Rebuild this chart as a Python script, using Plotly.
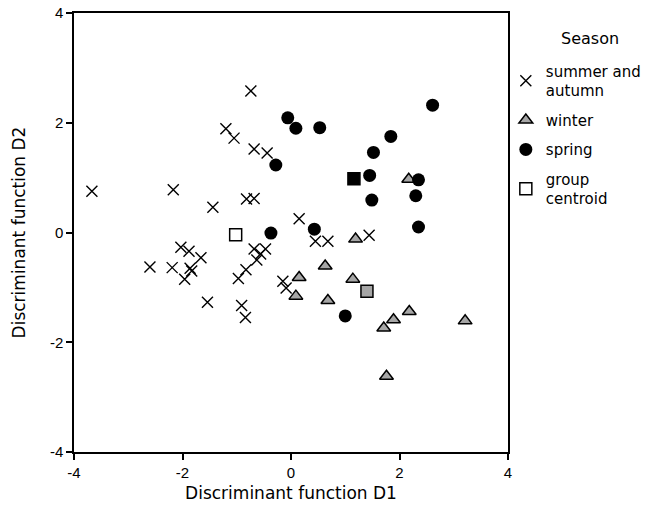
import plotly.graph_objects as go

# Summer and autumn
summer_x = [-0.74, -1.20, -1.05, -0.68, -0.44, -3.67, -2.17, -1.44, -0.82, -0.68, 0.15,
            -2.03, -1.88, -1.66, -2.60, -2.19, -1.86, -1.83, -1.96, -0.68, -0.47, -0.56,
            -0.63, -0.83, -0.97, -1.54, -0.91, -0.84, -0.15, -0.09, 0.45, 0.68, 1.44]
summer_y = [2.58, 1.89, 1.72, 1.52, 1.45, 0.75, 0.78, 0.46, 0.61, 0.62, 0.25,
            -0.27, -0.34, -0.46, -0.63, -0.64, -0.65, -0.70, -0.85, -0.30, -0.30, -0.39,
            -0.50, -0.68, -0.84, -1.27, -1.33, -1.55, -0.89, -1.01, -0.16, -0.16, -0.05]

# Winter
winter_x = [2.17, 1.19, 0.63, 0.15, 1.14, 0.09, 0.68, 2.18, 1.89, 1.71, 3.21, 1.76]
winter_y = [0.97, -0.12, -0.61, -0.82, -0.85, -1.16, -1.24, -1.44, -1.59, -1.74, -1.61, -2.62]

# Spring
spring_x = [-0.06, 0.09, 0.53, 2.61, 1.84, 1.52, -0.28, 1.45, 2.35, 2.30, 1.49, 2.35, -0.37, 0.43, 1.00]
spring_y = [2.09, 1.90, 1.91, 2.32, 1.75, 1.46, 1.23, 1.04, 0.96, 0.67, 0.59, 0.10, -0.01, 0.06, -1.52]

# Group centroids: summer/autumn, winter, spring
centroid_x = [-1.02, 1.40, 1.16]
centroid_y = [-0.04, -1.07, 0.98]
centroid_fill = ["white", "#a6a6a6", "black"]

tick_vals = [-4, -2, 0, 2, 4]
tick_text = ["-4", "-2", "0", "2", "4"]

legend_title = "Season"

GRAY = "#a6a6a6"
TXT_FONT = "DejaVu Sans, sans-serif"

fig = go.Figure()
fig.add_trace(go.Scatter(
    x=summer_x, y=summer_y, mode="markers", name="summer and<br>autumn", legendgroup="a",
    marker=dict(symbol="x-thin", size=11, line=dict(color="black", width=1.4), color="black"),
))
fig.add_trace(go.Scatter(
    x=winter_x, y=winter_y, mode="markers", name="winter", legendgroup="b",
    marker=dict(symbol="triangle-up", size=12, color=GRAY, line=dict(color="black", width=1.5)),
))
fig.add_trace(go.Scatter(
    x=spring_x, y=spring_y, mode="markers", name="spring", legendgroup="c",
    marker=dict(symbol="circle", size=13, color="black", line=dict(width=0)),
))
fig.add_trace(go.Scatter(
    x=centroid_x, y=centroid_y, mode="markers", name="group<br>centroid", legendgroup="d",
    marker=dict(symbol="square", size=12, color=centroid_fill, line=dict(color="black", width=1.5)),
))

axis_common = dict(
    range=[-4, 4], tickvals=tick_vals, ticktext=tick_text, ticks="outside", ticklen=6, tickwidth=1.5,
    tickcolor="black", showline=True, linecolor="black", linewidth=1.5, mirror=True,
    showgrid=False, zeroline=False, automargin=False,
    tickfont=dict(family="Liberation Sans, Arial, sans-serif", size=15, color="black"),
)

fig.update_layout(
    width=660, height=515,
    margin=dict(l=74, r=152, t=13, b=63),
    plot_bgcolor="white", paper_bgcolor="white",
    xaxis=dict(title=dict(text="Discriminant function D1", font=dict(family=TXT_FONT, size=17, color="black"), standoff=7), **axis_common),
    yaxis=dict(title=dict(text="Discriminant function D2", font=dict(family=TXT_FONT, size=17, color="black"), standoff=20), **axis_common),
    legend=dict(
        font=dict(family=TXT_FONT, size=15, color="black"),
        x=0.995, xanchor="left", y=0.905, yanchor="top",
        itemsizing="trace", tracegroupgap=7, traceorder="grouped",
        bgcolor="rgba(0,0,0,0)",
    ),
    annotations=[dict(
        text=legend_title, xref="paper", yref="paper", x=1.189, y=0.943,
        xanchor="center", yanchor="middle", showarrow=False,
        font=dict(family=TXT_FONT, size=16, color="black"),
    )],
)

fig.write_html("out.html")
